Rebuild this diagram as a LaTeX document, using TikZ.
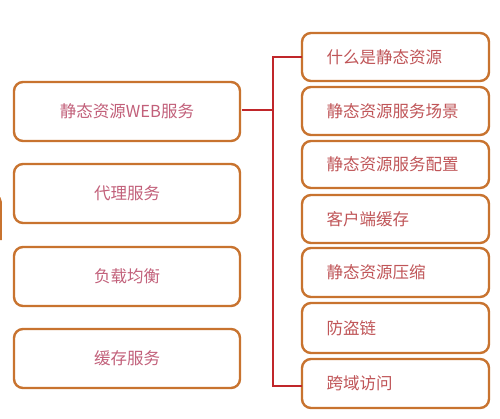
\documentclass[tikz,border=0pt]{standalone}
\usepackage{fontspec}
\setmainfont{Noto Sans CJK SC}
\begin{document}
\begin{tikzpicture}[x=1pt,y=-1pt,
  box/.style={draw=boxc,line width=2.4pt,rounded corners=9pt,fill=white,inner sep=0pt},
  ltext/.style={text=ltc,font=\fontsize{16.5}{18}\selectfont},
  rtext/.style={text=rtc,font=\fontsize{16.5}{18}\selectfont,anchor=west},
  conn/.style={draw=connc,line width=2pt}]
\definecolor{boxc}{HTML}{C8732F}
\definecolor{ltc}{HTML}{C2607A}
\definecolor{rtc}{HTML}{C05558}
\definecolor{connc}{HTML}{C0262A}
\useasboundingbox[fill=white] (0,0) rectangle (500,418);
% partial shape at left edge
\draw[draw=boxc,line width=1.8pt] (-8,196) -- (-4,196) to[out=0,in=90] (1,202) -- (1,240);
% left boxes
\draw[box] (14,82) rectangle (240,141);
\node[ltext] (l1) at (127,111.5) {静态资源WEB服务};
\draw[box] (14,164) rectangle (240,223);
\node[ltext] (l2) at (127,193.5) {代理服务};
\draw[box] (14,247) rectangle (240,306);
\node[ltext] (l3) at (127,276.5) {负载均衡};
\draw[box] (14,329) rectangle (240,388);
\node[ltext] (l4) at (127,358.5) {缓存服务};
% right boxes
\draw[box] (302,33) rectangle (489,81);
\node[rtext] (r1) at (323,57) {什么是静态资源};
\draw[box] (302,87) rectangle (489,135);
\node[rtext] (r2) at (323,111) {静态资源服务场景};
\draw[box] (302,141) rectangle (489,188);
\node[rtext] (r3) at (323,164.5) {静态资源服务配置};
\draw[box] (302,195) rectangle (489,243);
\node[rtext] (r4) at (323,219) {客户端缓存};
\draw[box] (302,248) rectangle (489,297);
\node[rtext] (r5) at (323,272.5) {静态资源压缩};
\draw[box] (302,303) rectangle (489,353);
\node[rtext] (r6) at (323,328) {防盗链};
\draw[box] (302,359) rectangle (489,408);
\node[rtext] (r7) at (323,383.5) {跨域访问};
% connectors
\coordinate (bx) at (273,110);
\coordinate (e1) at (302,57);
\coordinate (e7) at (302,386);
\draw[conn] (241.5,110) -- (bx);
\draw[conn] (e1) -| (273,110) |- (e7);
\end{tikzpicture}
\end{document}
